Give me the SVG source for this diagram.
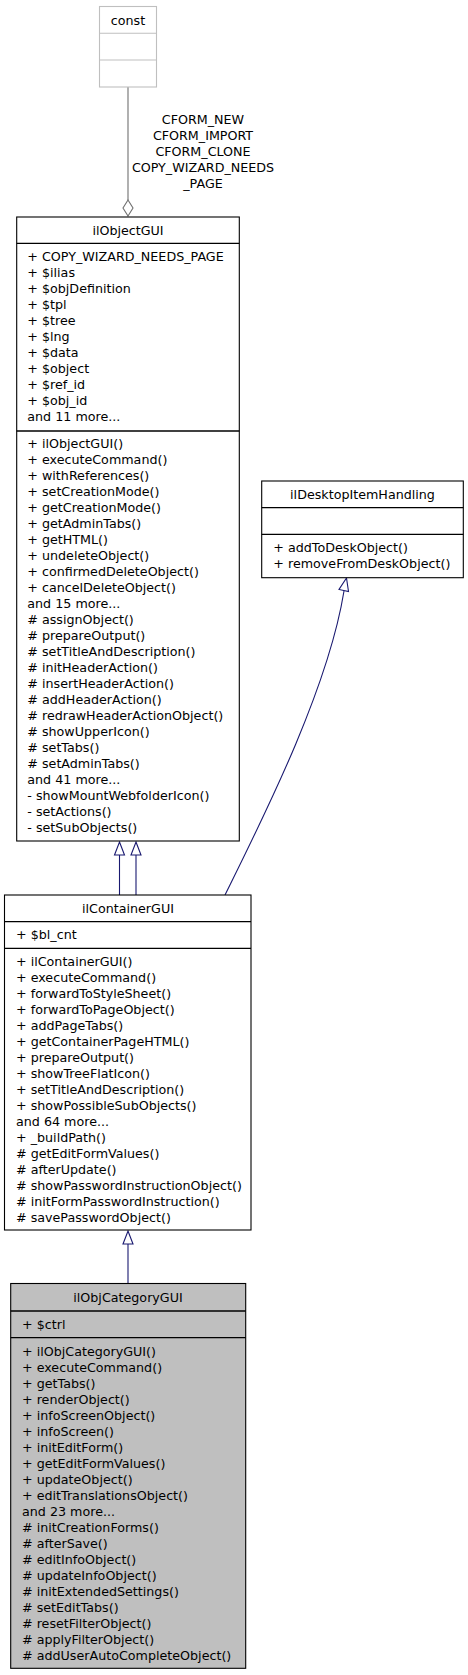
<svg xmlns="http://www.w3.org/2000/svg" width="468" height="1675" viewBox="0 0 468 1675">
<style>
text{font-family:"DejaVu Sans","Liberation Sans",sans-serif;font-size:12.7px;fill:#000}
.c{text-anchor:middle}
.box{fill:#fff;stroke:#000;stroke-width:1.1}
.gbox{fill:#fff;stroke:#bfbfbf;stroke-width:1.1}
.hl{fill:#bfbfbf;stroke:#000;stroke-width:1.1}
.div{stroke:#000;stroke-width:1.3}
.gdiv{stroke:#bfbfbf;stroke-width:1.1}
.inh{fill:none;stroke:#191970;stroke-width:1.1}
.head{fill:#fff;stroke:#191970;stroke-width:1.1}
.use{fill:none;stroke:#707070;stroke-width:1.1}
</style>
<rect width="468" height="1675" fill="#fff"/>
<g id="edges">
  <path class="use" d="M128,87 V200"/>
  <polygon fill="#fff" stroke="#707070" stroke-width="1.1" points="128,200 133,208 128,216 123,208"/>
  <text class="c" x="203" y="123.5">CFORM_NEW</text>
  <text class="c" x="203" y="139.5">CFORM_IMPORT</text>
  <text class="c" x="203" y="155.5">CFORM_CLONE</text>
  <text class="c" x="203" y="171.5">COPY_WIZARD_NEEDS</text>
  <text class="c" x="203" y="187.5">_PAGE</text>
  <path class="inh" d="M119.5,855 V895"/>
  <polygon class="head" points="119.5,842 124.5,855 114.5,855"/>
  <path class="inh" d="M136,855 V895"/>
  <polygon class="head" points="136,842 141,855 131,855"/>
  <path class="inh" d="M225,895 C262,820 328,690 344,591"/>
  <polygon class="head" points="346.5,578 348.5,591.5 339,589.5"/>
  <path class="inh" d="M128,1244 V1284"/>
  <polygon class="head" points="128,1231 133,1244 123,1244"/>
</g>
<g id="const">
  <rect class="gbox" x="99.5" y="6.5" width="57" height="80.5"/>
  <line class="gdiv" x1="99.5" y1="33.3" x2="156.5" y2="33.3"/>
  <line class="gdiv" x1="99.5" y1="60" x2="156.5" y2="60"/>
  <text class="c" x="128" y="24.5">const</text>
</g>
<g id="ilObjectGUI">
  <rect class="box" x="16.7" y="217" width="222.6" height="624"/>
  <line class="div" x1="16.7" y1="243.3" x2="239.3" y2="243.3"/>
  <line class="div" x1="16.7" y1="431" x2="239.3" y2="431"/>
  <text class="c" x="128" y="234.5">ilObjectGUI</text>
  <text x="27.3" y="261">+ COPY_WIZARD_NEEDS_PAGE</text>
  <text x="27.3" y="277">+ $ilias</text>
  <text x="27.3" y="293">+ $objDefinition</text>
  <text x="27.3" y="309">+ $tpl</text>
  <text x="27.3" y="325">+ $tree</text>
  <text x="27.3" y="341">+ $lng</text>
  <text x="27.3" y="357">+ $data</text>
  <text x="27.3" y="373">+ $object</text>
  <text x="27.3" y="389">+ $ref_id</text>
  <text x="27.3" y="405">+ $obj_id</text>
  <text x="27.3" y="421">and 11 more...</text>
  <text x="27.3" y="448">+ ilObjectGUI()</text>
  <text x="27.3" y="464">+ executeCommand()</text>
  <text x="27.3" y="480">+ withReferences()</text>
  <text x="27.3" y="496">+ setCreationMode()</text>
  <text x="27.3" y="512">+ getCreationMode()</text>
  <text x="27.3" y="528">+ getAdminTabs()</text>
  <text x="27.3" y="544">+ getHTML()</text>
  <text x="27.3" y="560">+ undeleteObject()</text>
  <text x="27.3" y="576">+ confirmedDeleteObject()</text>
  <text x="27.3" y="592">+ cancelDeleteObject()</text>
  <text x="27.3" y="608">and 15 more...</text>
  <text x="27.3" y="624"># assignObject()</text>
  <text x="27.3" y="640"># prepareOutput()</text>
  <text x="27.3" y="656"># setTitleAndDescription()</text>
  <text x="27.3" y="672"># initHeaderAction()</text>
  <text x="27.3" y="688"># insertHeaderAction()</text>
  <text x="27.3" y="704"># addHeaderAction()</text>
  <text x="27.3" y="720"># redrawHeaderActionObject()</text>
  <text x="27.3" y="736"># showUpperIcon()</text>
  <text x="27.3" y="752"># setTabs()</text>
  <text x="27.3" y="768"># setAdminTabs()</text>
  <text x="27.3" y="784">and 41 more...</text>
  <text x="27.3" y="800">- showMountWebfolderIcon()</text>
  <text x="27.3" y="816">- setActions()</text>
  <text x="27.3" y="832">- setSubObjects()</text>
</g>
<g id="ilDesktopItemHandling">
  <rect class="box" x="261.7" y="481" width="201.6" height="96.7"/>
  <line class="div" x1="261.7" y1="507.7" x2="463.3" y2="507.7"/>
  <line class="div" x1="261.7" y1="534.3" x2="463.3" y2="534.3"/>
  <text class="c" x="362.5" y="499">ilDesktopItemHandling</text>
  <text x="273.3" y="552">+ addToDeskObject()</text>
  <text x="273.3" y="568">+ removeFromDeskObject()</text>
</g>
<g id="ilContainerGUI">
  <rect class="box" x="4.5" y="895" width="246.5" height="335"/>
  <line class="div" x1="4.5" y1="921.7" x2="251" y2="921.7"/>
  <line class="div" x1="4.5" y1="948.3" x2="251" y2="948.3"/>
  <text class="c" x="128" y="912.5">ilContainerGUI</text>
  <text x="16" y="939">+ $bl_cnt</text>
  <text x="16" y="965.5">+ ilContainerGUI()</text>
  <text x="16" y="981.5">+ executeCommand()</text>
  <text x="16" y="997.5">+ forwardToStyleSheet()</text>
  <text x="16" y="1013.5">+ forwardToPageObject()</text>
  <text x="16" y="1029.5">+ addPageTabs()</text>
  <text x="16" y="1045.5">+ getContainerPageHTML()</text>
  <text x="16" y="1061.5">+ prepareOutput()</text>
  <text x="16" y="1077.5">+ showTreeFlatIcon()</text>
  <text x="16" y="1093.5">+ setTitleAndDescription()</text>
  <text x="16" y="1109.5">+ showPossibleSubObjects()</text>
  <text x="16" y="1125.5">and 64 more...</text>
  <text x="16" y="1141.5">+ _buildPath()</text>
  <text x="16" y="1157.5"># getEditFormValues()</text>
  <text x="16" y="1173.5"># afterUpdate()</text>
  <text x="16" y="1189.5"># showPasswordInstructionObject()</text>
  <text x="16" y="1205.5"># initFormPasswordInstruction()</text>
  <text x="16" y="1221.5"># savePasswordObject()</text>
</g>
<g id="ilObjCategoryGUI">
  <rect class="hl" x="10.7" y="1283.5" width="235" height="384.8"/>
  <line class="div" x1="10.7" y1="1311" x2="245.7" y2="1311"/>
  <line class="div" x1="10.7" y1="1337.7" x2="245.7" y2="1337.7"/>
  <text class="c" x="128" y="1301.5">ilObjCategoryGUI</text>
  <text x="22" y="1329">+ $ctrl</text>
  <text x="22" y="1355.5">+ ilObjCategoryGUI()</text>
  <text x="22" y="1371.5">+ executeCommand()</text>
  <text x="22" y="1387.5">+ getTabs()</text>
  <text x="22" y="1403.5">+ renderObject()</text>
  <text x="22" y="1419.5">+ infoScreenObject()</text>
  <text x="22" y="1435.5">+ infoScreen()</text>
  <text x="22" y="1451.5">+ initEditForm()</text>
  <text x="22" y="1467.5">+ getEditFormValues()</text>
  <text x="22" y="1483.5">+ updateObject()</text>
  <text x="22" y="1499.5">+ editTranslationsObject()</text>
  <text x="22" y="1515.5">and 23 more...</text>
  <text x="22" y="1531.5"># initCreationForms()</text>
  <text x="22" y="1547.5"># afterSave()</text>
  <text x="22" y="1563.5"># editInfoObject()</text>
  <text x="22" y="1579.5"># updateInfoObject()</text>
  <text x="22" y="1595.5"># initExtendedSettings()</text>
  <text x="22" y="1611.5"># setEditTabs()</text>
  <text x="22" y="1627.5"># resetFilterObject()</text>
  <text x="22" y="1643.5"># applyFilterObject()</text>
  <text x="22" y="1659.5"># addUserAutoCompleteObject()</text>
</g>
</svg>
